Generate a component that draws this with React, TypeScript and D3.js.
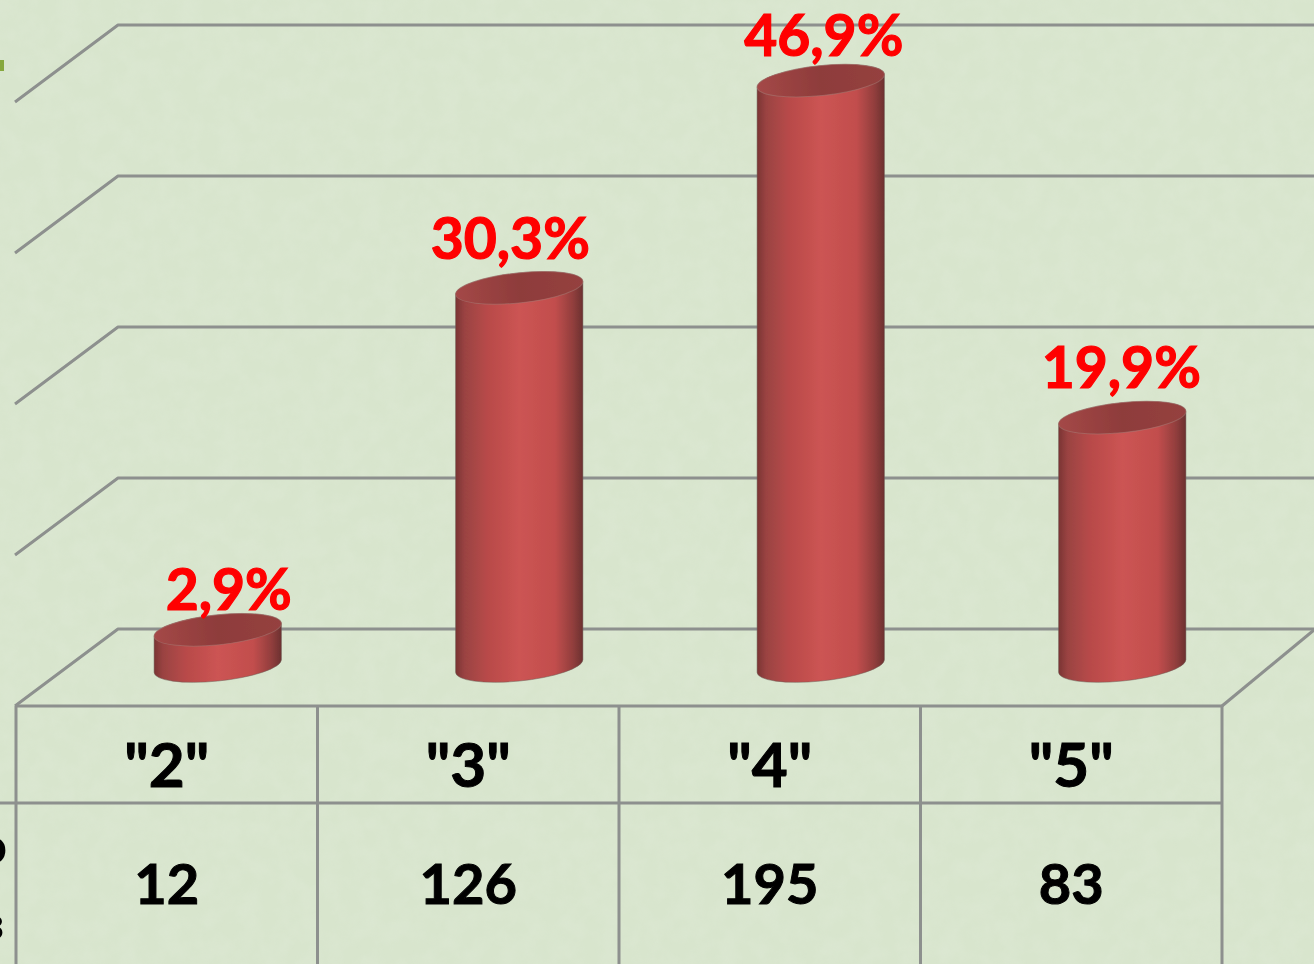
import React from "react";
import * as d3 from "d3";

const categories = ['"2"', '"3"', '"4"', '"5"'];
const counts = [12, 126, 195, 83];
const percents = [2.9, 30.3, 46.9, 19.9];
const percentLabels = ["2,9%", "30,3%", "46,9%", "19,9%"];
const gridLevels = [0, 1, 2, 3, 4];

// hand-placed label nudges (reference labels are not centred on the bars)
const labelNudge: [number, number][] = [[11, -19.8], [-9, -28.9], [3, -25], [-1, -29.6]];

const W = 1314, H = 964;
const FONT = "Lato, 'Open Sans', sans-serif";
const GRID = "#8d908e";

const x = d3.scaleBand<string>().domain(categories).range([16, 1222]);
const y = d3.scaleLinear().domain([0, 50]).range([666, 42]);
const gridY = d3.scaleLinear().domain([0, 4]).range([629, 25]);

const depthX = 103, depthY = 77, barShift = 51;
const a = 64, b = 15, rotDeg = -6, th = (rotDeg * Math.PI) / 180;

function extreme() {
  const t = Math.atan2(-b * Math.sin(th), a * Math.cos(th));
  return {
    dx: a * Math.cos(t) * Math.cos(th) - b * Math.sin(t) * Math.sin(th),
    dy: a * Math.cos(t) * Math.sin(th) + b * Math.sin(t) * Math.cos(th),
  };
}

function Bar({ cx, top, base }: { cx: number; top: number; base: number }) {
  const e = extreme();
  const lx = cx - e.dx, rx = cx + e.dx;
  const arc = `A${a} ${b} ${rotDeg} 0 0`;
  const body = `M${lx} ${top - e.dy}L${lx} ${base - e.dy}${arc} ${rx} ${base + e.dy}L${rx} ${top + e.dy}${arc} ${lx} ${top - e.dy}Z`;
  return (
    <g>
      <path d={body} fill="url(#cyl)" stroke="#6e5f58" strokeWidth={1} strokeOpacity={0.5} />
      <ellipse cx={cx} cy={top} rx={a} ry={b} transform={`rotate(${rotDeg} ${cx} ${top})`} fill="url(#capGrad)" stroke="#a8807a" strokeWidth={1} strokeOpacity={0.5} />
    </g>
  );
}

export default function App() {
  const center = (c: string) => (x(c) as number) + x.bandwidth() / 2;
  const vLines = [...categories.map((c) => x(c) as number), 1222];
  return (
    <svg width={W} height={H} viewBox={`0 0 ${W} ${H}`} style={{ position: "fixed", left: 0, top: 0, display: "block" }}>
      <defs>
        <linearGradient id="cyl" x1="0" x2="1" y1="0" y2="0">
          <stop offset="0" stopColor="#7a3433" />
          <stop offset="0.07" stopColor="#9a4342" />
          <stop offset="0.25" stopColor="#b84a49" />
          <stop offset="0.5" stopColor="#cc5453" />
          <stop offset="0.78" stopColor="#c24e4d" />
          <stop offset="0.92" stopColor="#923e3d" />
          <stop offset="1" stopColor="#6c3130" />
        </linearGradient>
        <linearGradient id="capGrad" x1="0" x2="1" y1="0" y2="0">
          <stop offset="0" stopColor="#a44847" />
          <stop offset="0.5" stopColor="#8e3c3b" />
          <stop offset="1" stopColor="#95413f" />
        </linearGradient>
        <filter id="paper" x="0" y="0" width="100%" height="100%">
          <feTurbulence type="fractalNoise" baseFrequency="0.05" numOctaves={3} seed={4} />
          <feColorMatrix type="matrix" values="0 0 0 0 0.78  0 0 0 0 0.85  0 0 0 0 0.74  0.8 0 0 0 -0.25" />
        </filter>
        <filter id="soft" x="-2%" y="-2%" width="104%" height="104%">
          <feGaussianBlur stdDeviation="0.6" />
        </filter>
      </defs>
      <rect width={W} height={H} fill="#d8e5cd" />
      <rect width={W} height={H} filter="url(#paper)" opacity={0.5} />

      <g filter="url(#soft)">
        <g stroke={GRID} strokeWidth={3} fill="none" strokeLinejoin="round">
          {gridLevels.map((l) => (
            <path key={l} d={`M${15} ${gridY(l) + depthY}L${15 + depthX} ${gridY(l)}L${W} ${gridY(l)}`} />
          ))}
          <path d={`M1222 706L${W} ${706 - 76}`} />
        </g>

        {categories.map((c, i) => (
          <Bar key={c} cx={center(c) + barShift} top={y(percents[i])} base={y(0)} />
        ))}

        <g stroke={GRID} strokeWidth={3} fill="none">
          <line x1={15} x2={1222} y1={706} y2={706} />
          <line x1={0} x2={1222} y1={803} y2={803} />
          {vLines.map((v) => (
            <line key={v} x1={v} x2={v} y1={706} y2={H} />
          ))}
        </g>

        <g fontFamily={FONT} fontWeight={700} textAnchor="middle">
          {categories.map((c, i) => (
            <text key={c} x={center(c) + barShift + labelNudge[i][0]} y={y(percents[i]) + labelNudge[i][1]} fill="#ff0000" stroke="#ff0000" strokeWidth={1.2} fontSize={57}>
              {percentLabels[i]}
            </text>
          ))}
          {categories.map((c) => (
            <text key={c} x={center(c)} y={787} fill="#000" stroke="#000" strokeWidth={1} fontSize={62}>{c}</text>
          ))}
          {categories.map((c, i) => (
            <text key={c} x={center(c)} y={904} fill="#000" stroke="#000" strokeWidth={1} fontSize={56}>{counts[i]}</text>
          ))}
        </g>

        <rect x={0} y={60} width={4} height={11} fill="#86a83c" />
        <text x={7} y={864} textAnchor="end" fontFamily={FONT} fontWeight={700} fontSize={52} fill="#000">о</text>
        <text x={4} y={940} textAnchor="end" fontFamily={FONT} fontWeight={700} fontSize={48} fill="#000">з</text>
      </g>
    </svg>
  );
}
